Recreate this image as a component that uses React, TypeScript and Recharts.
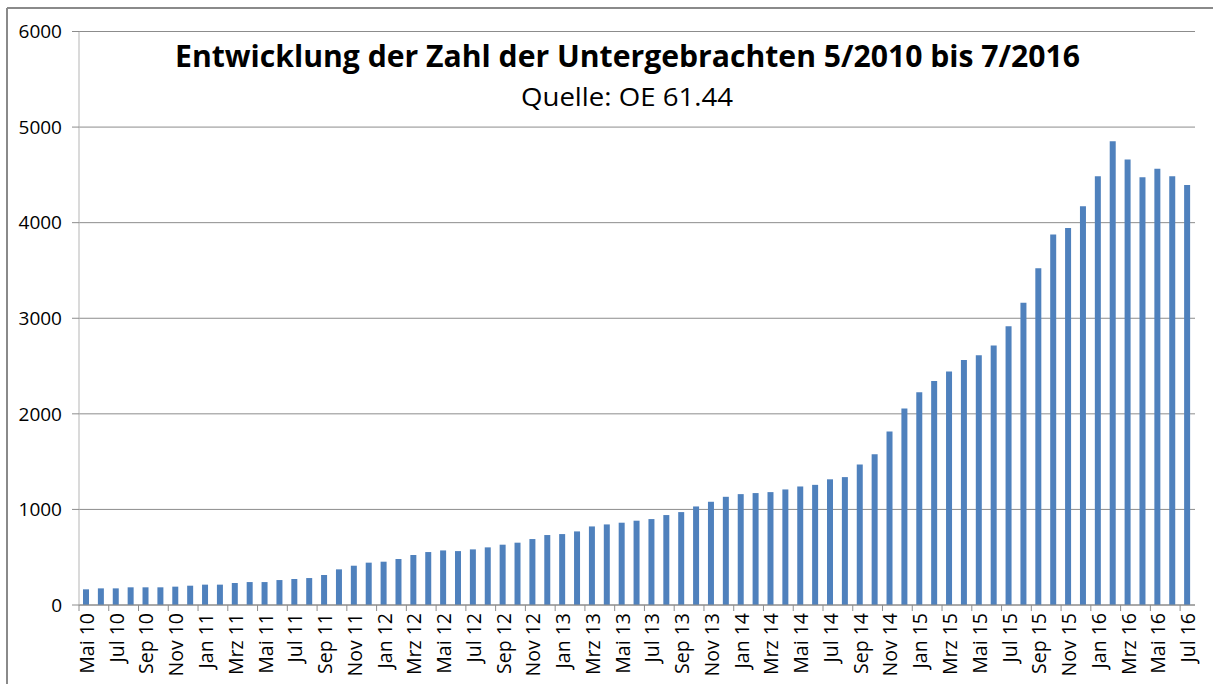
import React from "react";
import { BarChart, Bar, XAxis, YAxis, CartesianGrid } from "recharts";

const months: string[] = [
  "Mai 10", "Jun 10", "Jul 10", "Aug 10", "Sep 10", "Okt 10", "Nov 10", "Dez 10",
  "Jan 11", "Feb 11", "Mrz 11", "Apr 11", "Mai 11", "Jun 11", "Jul 11", "Aug 11", "Sep 11", "Okt 11", "Nov 11", "Dez 11",
  "Jan 12", "Feb 12", "Mrz 12", "Apr 12", "Mai 12", "Jun 12", "Jul 12", "Aug 12", "Sep 12", "Okt 12", "Nov 12", "Dez 12",
  "Jan 13", "Feb 13", "Mrz 13", "Apr 13", "Mai 13", "Jun 13", "Jul 13", "Aug 13", "Sep 13", "Okt 13", "Nov 13", "Dez 13",
  "Jan 14", "Feb 14", "Mrz 14", "Apr 14", "Mai 14", "Jun 14", "Jul 14", "Aug 14", "Sep 14", "Okt 14", "Nov 14", "Dez 14",
  "Jan 15", "Feb 15", "Mrz 15", "Apr 15", "Mai 15", "Jun 15", "Jul 15", "Aug 15", "Sep 15", "Okt 15", "Nov 15", "Dez 15",
  "Jan 16", "Feb 16", "Mrz 16", "Apr 16", "Mai 16", "Jun 16", "Jul 16",
];

const untergebrachte: number[] = [
  164, 174, 174, 185, 185, 185, 192, 202,
  213, 213, 230, 240, 240, 261, 272, 282, 314, 373, 411, 443,
  453, 481, 523, 554, 571, 564, 582, 603, 631, 652, 690, 732,
  742, 770, 822, 843, 861, 882, 899, 941, 972, 1031, 1080, 1132,
  1160, 1171, 1181, 1209, 1240, 1257, 1315, 1338, 1469, 1578, 1814, 2057,
  2227, 2343, 2444, 2564, 2614, 2715, 2916, 3163, 3523, 3875, 3944, 4172,
  4486, 4853, 4660, 4474, 4563, 4486, 4393,
];

const yTicks: number[] = [0, 1000, 2000, 3000, 4000, 5000, 6000];

const titleText = "Entwicklung der Zahl der Untergebrachten 5/2010 bis 7/2016";
const subtitleText = "Quelle: OE 61.44";

const data = months.map((m, i) => ({ month: m, value: untergebrachte[i] }));

const W = 1213;
const H = 684;
const PLOT_LEFT = 79;
const PLOT_RIGHT = 1195;
const PLOT_W = PLOT_RIGHT - PLOT_LEFT;
const FONT = "'Open Sans', 'Noto Sans', sans-serif";

const XTick = (props: any) => {
  const { x, y, payload } = props;
  const half = PLOT_W / months.length / 2;
  return (
    <g>
      <line x1={x - half} y1={y} x2={x - half} y2={y + 6} stroke="#8c8c8c" strokeWidth={1} />
      <text
        transform={`translate(${x},${y + 8}) rotate(-90)`}
        textAnchor="end"
        dominantBaseline="central"
        fontSize={19.5}
        fill="#000"
        fontFamily={FONT}
      >
        {payload.value}
      </text>
    </g>
  );
};

export default function App() {
  return (
    <div style={{ position: "absolute", left: 0, top: 0, width: W, height: H, background: "#fff", overflow: "hidden" }}>
      <BarChart
        width={W}
        height={H}
        data={data}
        margin={{ top: 31.5, right: W - PLOT_RIGHT, bottom: 0, left: 0 }}
        barSize={6}
      >
        <CartesianGrid vertical={false} stroke="#8c8c8c" strokeWidth={1} />
        <XAxis
          dataKey="month"
          interval={1}
          height={79}
          tickSize={0}
          tickMargin={0}
          tickLine={false}
          axisLine={{ stroke: "#8c8c8c" }}
          tick={<XTick />}
        />
        <YAxis
          width={PLOT_LEFT}
          domain={[0, 6000]}
          ticks={yTicks}
          interval={0}
          tickSize={7}
          tickMargin={10}
          axisLine={{ stroke: "#b5b5b5" }}
          tickLine={{ stroke: "#8c8c8c" }}
          tick={{ fill: "#000", fontSize: 19, fontFamily: FONT }}
        />
        <Bar dataKey="value" fill="#4F81BD" isAnimationActive={false} />
      </BarChart>
      <svg
        width={W}
        height={H}
        style={{ position: "absolute", left: 0, top: 0, pointerEvents: "none" }}
      >
        <line x1={7} y1={8} x2={W} y2={8} stroke="#8a8a8a" strokeWidth={2} />
        <line x1={7} y1={8} x2={7} y2={H} stroke="#8a8a8a" strokeWidth={2} />
        <text
          x={627.5}
          y={67}
          textAnchor="middle"
          fontFamily={FONT}
          fontWeight="bold"
          fontSize={30}
          fill="#000"
          textLength={905}
          lengthAdjust="spacingAndGlyphs"
        >
          {titleText}
        </text>
        <text
          x={627}
          y={106}
          textAnchor="middle"
          fontFamily={FONT}
          fontSize={25}
          fill="#000"
          textLength={212}
          lengthAdjust="spacingAndGlyphs"
        >
          {subtitleText}
        </text>
      </svg>
    </div>
  );
}
